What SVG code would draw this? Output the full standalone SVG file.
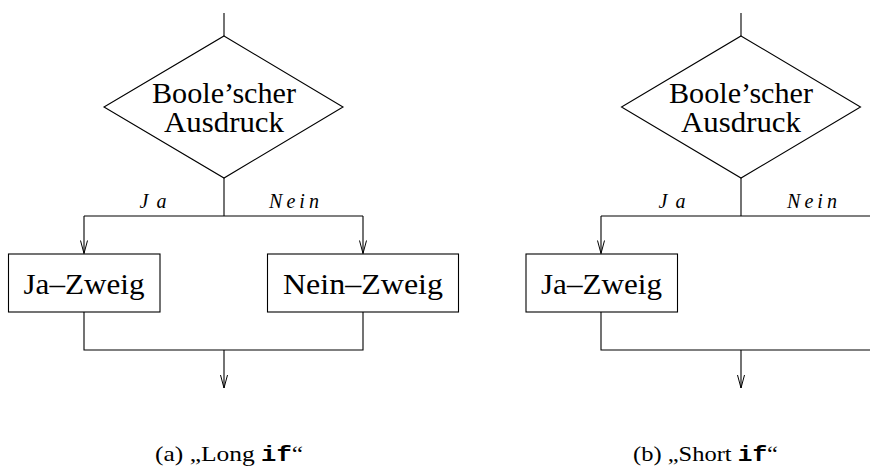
<svg xmlns="http://www.w3.org/2000/svg" width="870" height="468" viewBox="0 0 870 468">
  <defs>
    <!-- open V arrowhead, tip at the line end (x axis = line direction) -->
    <marker id="vee" viewBox="-14 -5 15 10" refX="0" refY="0" markerWidth="15" markerHeight="10" markerUnits="userSpaceOnUse" orient="auto">
      <path d="M-13,-3.5 L0,0 L-13,3.5" fill="none" stroke="#000" stroke-width="1"/>
    </marker>
  </defs>
  <style>
    .ln { fill: none; stroke: #000; stroke-width: 1.1; }
    .arr { marker-end: url(#vee); }
    .shape { fill: #fff; stroke: #000; stroke-width: 1.1; }
    .big { font-family: "Liberation Serif", "DejaVu Serif", serif; font-size: 30px; fill: #000; text-anchor: middle; }
    .cond { font-size: 28.5px; }
    .lbl { font-family: "Liberation Serif", "DejaVu Serif", serif; font-style: italic; font-size: 20px; fill: #000; text-anchor: middle; }
    .cap { font-family: "Liberation Serif", "DejaVu Serif", serif; font-size: 22px; fill: #000; }
    .code { font-family: "Liberation Mono", "DejaVu Sans Mono", monospace; font-weight: bold; }
  </style>
  <rect width="870" height="468" fill="#fff"/>

  <!-- (a) long if -->
  <g id="connectors-a">
    <path class="ln" d="M224,13 V36"/>
    <path class="ln" d="M224,178 V216"/>
    <path class="ln" d="M84,216 H363"/>
    <path class="ln arr" d="M84,216 V253.5"/>
    <path class="ln arr" d="M363,216 V253.5"/>
    <path class="ln" d="M84,312 V350 H363 V312"/>
    <path class="ln arr" d="M224,350 V388"/>
    <text class="lbl" x="153" y="208" textLength="27" lengthAdjust="spacing">Ja</text>
    <text class="lbl" x="294" y="208" textLength="50" lengthAdjust="spacing">Nein</text>
  </g>
  <g id="cond-a">
    <polygon class="shape" points="224,36 343,107 224,178 104,107"/>
    <text class="big cond" x="224" y="103" textLength="144" lengthAdjust="spacingAndGlyphs">Boole’scher</text>
    <text class="big cond" x="224" y="132" textLength="120" lengthAdjust="spacingAndGlyphs">Ausdruck</text>
  </g>
  <g id="ja-a">
    <rect class="shape" x="8.5" y="254" width="151.5" height="58"/>
    <text class="big" x="84" y="294" textLength="121" lengthAdjust="spacingAndGlyphs">Ja–Zweig</text>
  </g>
  <g id="nein-a">
    <rect class="shape" x="267.5" y="254" width="191" height="58"/>
    <text class="big" x="363" y="294" textLength="160" lengthAdjust="spacingAndGlyphs">Nein–Zweig</text>
  </g>
  <text class="cap" x="155" y="461" textLength="148" lengthAdjust="spacingAndGlyphs">(a) „Long <tspan class="code">if</tspan>“</text>

  <!-- (b) short if -->
  <g id="connectors-b">
    <path class="ln" d="M741,13 V36"/>
    <path class="ln" d="M741,178 V216"/>
    <path class="ln" d="M601,216 H871"/>
    <path class="ln arr" d="M601,216 V253.5"/>
    <path class="ln" d="M601,312 V350 H871"/>
    <path class="ln arr" d="M741,350 V388"/>
    <text class="lbl" x="672" y="208" textLength="27" lengthAdjust="spacing">Ja</text>
    <text class="lbl" x="812" y="208" textLength="50" lengthAdjust="spacing">Nein</text>
  </g>
  <g id="cond-b">
    <polygon class="shape" points="741,36 860.5,107 741,178 621.5,107"/>
    <text class="big cond" x="741" y="103" textLength="144" lengthAdjust="spacingAndGlyphs">Boole’scher</text>
    <text class="big cond" x="741" y="132" textLength="120" lengthAdjust="spacingAndGlyphs">Ausdruck</text>
  </g>
  <g id="ja-b">
    <rect class="shape" x="526" y="254" width="151.5" height="58"/>
    <text class="big" x="601.5" y="294" textLength="121" lengthAdjust="spacingAndGlyphs">Ja–Zweig</text>
  </g>
  <text class="cap" x="633" y="461" textLength="145" lengthAdjust="spacingAndGlyphs">(b) „Short <tspan class="code">if</tspan>“</text>
</svg>
